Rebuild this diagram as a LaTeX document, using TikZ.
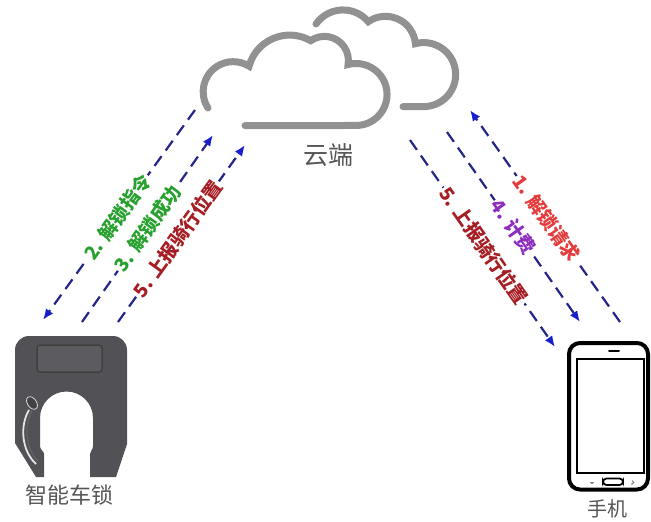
\documentclass[tikz,border=0pt]{standalone}
\usepackage{fontspec}
\newfontfamily\cjk{Noto Sans CJK SC}
\usetikzlibrary{arrows.meta}
\definecolor{cloudgray}{RGB}{145,145,145}
\definecolor{navy}{RGB}{35,38,135}
\definecolor{tipblue}{RGB}{25,30,205}
\definecolor{lblgreen}{RGB}{40,160,45}
\definecolor{lblred}{RGB}{228,60,60}
\definecolor{lbldark}{RGB}{165,30,35}
\definecolor{lblpurple}{RGB}{140,45,190}
\definecolor{textgray}{RGB}{85,85,85}
\definecolor{lockbody}{RGB}{82,82,86}
\definecolor{lockwin}{RGB}{92,92,96}
\tikzset{
  cloudline/.style={draw=cloudgray, line width=7, line cap=round},
  flow/.style={draw=navy, line width=2.2, dash pattern=on 12 off 7,
    -{Latex[length=11,width=9,color=tipblue]}},
  lbl/.style={sloped, fill=white, inner sep=1.5,
    font=\cjk\bfseries\fontsize{19}{19}\selectfont},
  caption/.style={text=textgray, font=\cjk\fontsize{22}{22}\selectfont, inner sep=0},
}
\begin{document}
\begin{tikzpicture}[x=1pt,y=-1pt]
\useasboundingbox (0,0) rectangle (651,522);

% ---- clouds ----
\draw[cloudline] (208,108) arc[start angle=147,end angle=302,radius=30]
  arc[start angle=195,end angle=300,radius=42]
  arc[start angle=235,end angle=370,radius=24]
  arc[start angle=255,end angle=450,radius=31]
  -- (245,125.6);
\draw[cloudline] (316,24) arc[start angle=215,end angle=320,radius=33]
  arc[start angle=235,end angle=355,radius=30]
  arc[start angle=255,end angle=450,radius=32]
  -- (403,106.6);
\node[caption, font=\cjk\fontsize{25}{25}\selectfont] (cloud) at (328,155) {云端};

% ---- smart lock ----
\fill[lockbody] (15,350) arc[start angle=180,end angle=270,radius=14]
  -- (113,336) arc[start angle=270,end angle=360,radius=14]
  -- (127,444) -- (116,477) -- (90,477) -- (90,454)
  .. controls (90,451) and (93,450) .. (93,446) -- (93,418)
  arc[start angle=0,end angle=-180,radius=26.5]
  -- (40,446) .. controls (40,450) and (44,451) .. (44,454)
  -- (44,477) -- (36,477) -- (15,443) -- cycle;
\draw[draw=black!75, fill=lockwin, line width=1.5, rounded corners=3]
  (37,345) rectangle (102,372);
\draw[white!80!gray, line width=1.8] (29,410) .. controls (20,425) and (21,450) .. (36,464);
\draw[black!60, line width=1] (32,411) .. controls (24,425) and (25,448) .. (38,461);
\draw[white!70!gray, fill=lockbody!80!black, line width=0.8, rotate around={35:(32,403)}]
  (32,403) ellipse[x radius=4.5, y radius=7];
\node[caption] (lock) at (69,495) {智能车锁};

% ---- phone ----
\draw[line width=4, rounded corners=11] (569,343) rectangle (648,489.5);
\draw[line width=2] (577,359) rectangle (644,473);
\draw[line width=2, line cap=round] (609,351) -- (619,351);
\draw[line width=1.8, rounded corners=3.5] (603,478.5) rectangle (623,485);
\draw[gray, line width=1] (590,482) -- (594,482) (591,483.5) -- (593,483.5);
\draw[gray, line width=1] (632,480.5) arc[start angle=-90,end angle=90,radius=1.8] -- (631,484.1);
\node[caption, font=\cjk\fontsize{20}{20}\selectfont] (phone) at (607,509) {手机};

% ---- message flows ----
\coordinate (l1a) at (195,110);  \coordinate (l1b) at (43,320);
\coordinate (l2a) at (82,322);   \coordinate (l2b) at (213,135);
\coordinate (l3a) at (118,322);  \coordinate (l3b) at (245,145);
\coordinate (r1a) at (620,322);  \coordinate (r1b) at (470,110);
\coordinate (r2a) at (447,132);  \coordinate (r2b) at (580,322);
\coordinate (r3a) at (410,140);  \coordinate (r3b) at (555,347);

\draw[flow] (l1a) -- node[lbl, pos=0.51, text=lblgreen] {2. 解锁指令} (l1b);
\draw[flow] (l2a) -- node[lbl, pos=0.5, text=lblgreen] {3. 解锁成功} (l2b);
\draw[flow] (l3a) -- node[lbl, pos=0.47, text=lbldark] {5. 上报骑行位置} (l3b);
\draw[flow] (r1a) -- node[lbl, pos=0.49, text=lblred] {1. 解锁请求} (r1b);
\draw[flow] (r2a) -- node[lbl, pos=0.5, text=lblpurple] {4. 计费} (r2b);
\draw[flow] (r3a) -- node[lbl, pos=0.51, text=lbldark] {5. 上报骑行位置} (r3b);
\end{tikzpicture}
\end{document}
